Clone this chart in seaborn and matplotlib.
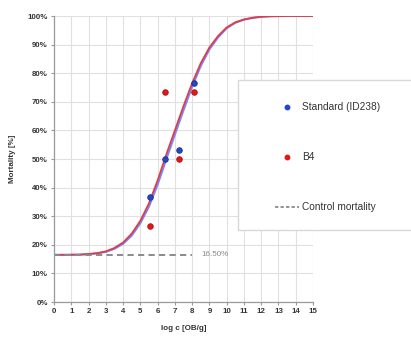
import numpy as np
import pandas as pd
import matplotlib
matplotlib.use("Agg")
import matplotlib.pyplot as plt
import seaborn as sns
from matplotlib.lines import Line2D
from matplotlib.patches import Rectangle

# dose levels (log c) and observed mortality [%]
dose = [5.55, 6.4, 7.25, 8.1]
standard_obs = [36.7, 50.0, 53.3, 76.7]
b4_obs = [26.7, 73.3, 50.0, 73.3]

# fitted curves at every 0.5 log unit
curve_x = [0, 0.5, 1, 1.5, 2, 2.5, 3, 3.5, 4, 4.5, 5, 5.5, 6, 6.5, 7, 7.5,
           8, 8.5, 9, 9.5, 10, 10.5, 11, 11.5, 12, 12.5, 13, 13.5, 14, 14.5, 15]
b4_curve = [16.5, 16.5, 16.55, 16.6, 16.8, 17.1, 17.7, 18.9, 20.8, 23.9, 28.4,
            34.5, 42.5, 51.5, 60.0, 68.5, 76.5, 83.5, 89.0, 93.0, 96.0, 97.8,
            98.8, 99.4, 99.75, 99.9, 99.95, 100, 100, 100, 100]
standard_curve = [16.5, 16.5, 16.5, 16.55, 16.7, 17.0, 17.5, 18.6, 20.3, 23.2,
                  27.5, 33.3, 41.0, 49.8, 58.5, 67.0, 75.2, 82.5, 88.3, 92.5,
                  95.7, 97.6, 98.7, 99.3, 99.7, 99.9, 99.95, 100, 100, 100, 100]

control = 16.5
control_x = [0, 8]

sns.set_style("whitegrid")
plt.rcParams['font.family'] = ['Liberation Sans', 'DejaVu Sans']

fig = plt.figure(figsize=(4.11, 3.39), dpi=100)
ax = fig.add_axes([0.1314, 0.1091, 0.6302, 0.8437])

df_curve = pd.DataFrame({'x': curve_x, 'std': standard_curve, 'b4': b4_curve})
sns.lineplot(data=df_curve, x='x', y='std', color='#6f8cff', linewidth=1.4, ax=ax)
sns.lineplot(data=df_curve, x='x', y='b4', color='#e23b47', linewidth=1.3, ax=ax)

ax.plot(control_x, [control, control], color='#8a8a8a', linestyle=(0, (3.2, 2.2)), linewidth=1.4)
ax.text(8.55, control, '16.50%', color='#8a8a8a', fontsize=5.8, va='center')

sns.scatterplot(x=dose, y=standard_obs, color='#2646c8', edgecolor='#1a2f90', s=16, linewidth=0.6, ax=ax, zorder=5)
sns.scatterplot(x=dose, y=b4_obs, color='#e01818', edgecolor='#b01010', s=16, linewidth=0.6, ax=ax, zorder=5)

ax.set_xlim(0, 15)
ax.set_ylim(0, 100)
ax.set_xticks(range(0, 16))
ax.set_yticks(range(0, 101, 10))
ax.set_yticklabels([f'{v}%' for v in range(0, 101, 10)])
ax.grid(True, color='#e0e0e0', linewidth=0.8)
for side in ['top', 'right']:
    ax.spines[side].set_visible(False)
for side in ['left', 'bottom']:
    ax.spines[side].set_color('#9a9a9a')
    ax.spines[side].set_linewidth(0.9)
ax.tick_params(axis='both', labelsize=5.7, colors='#9a9a9a', labelcolor='#333333',
               length=2.5, width=0.8, pad=2, left=True, bottom=True)
for lab in ax.get_xticklabels() + ax.get_yticklabels():
    lab.set_fontweight('bold')
ax.set_xlabel('log c [OB/g]', fontsize=5.8, fontweight='bold', color='#333333', labelpad=7)
ax.set_ylabel('Mortality [%]', fontsize=5.8, fontweight='bold', color='#333333', labelpad=8)

# legend box (runs off the right edge)
fig.patches.append(Rectangle((238 / 411, (339 - 230) / 339), 0.45, 150 / 339,
                             transform=fig.transFigure, facecolor='white',
                             edgecolor='#d8d8d8', linewidth=1.0, zorder=1))
handles = [
    Line2D([], [], marker='o', linestyle='none', color='#2646c8', markersize=3.2),
    Line2D([], [], marker='o', linestyle='none', color='#e01818', markersize=3.2),
    Line2D([], [], color='#777777', linestyle=(0, (2.2, 1.4)), linewidth=1.1),
]
labels = ['Standard (ID238)', 'B4', 'Control mortality']
leg = fig.legend(handles, labels, loc='upper left', bbox_to_anchor=(270 / 411, (339 - 97) / 339),
                 frameon=False, fontsize=7.3, labelspacing=3.95, handlelength=2.4,
                 handletextpad=0.3, borderpad=0)
for t in leg.get_texts():
    t.set_color('#333333')

fig.savefig('out.png', dpi=100)
